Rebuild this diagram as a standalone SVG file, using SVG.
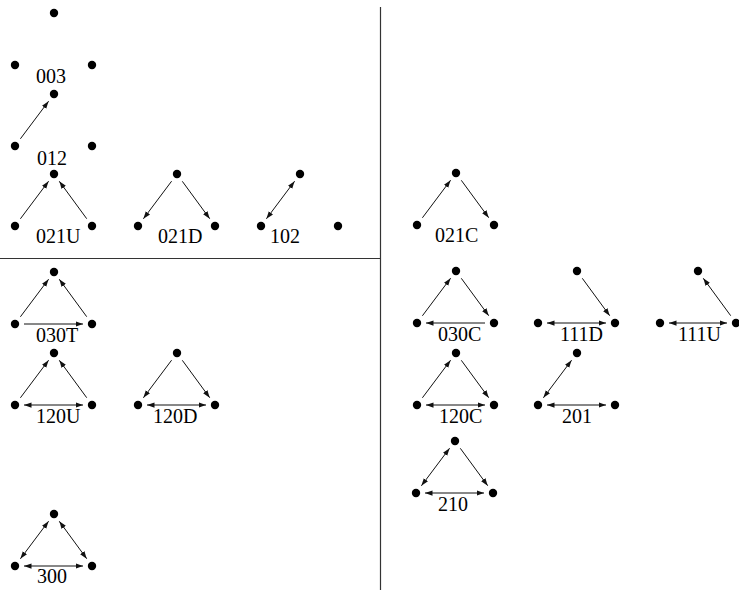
<svg xmlns="http://www.w3.org/2000/svg" width="739" height="590" viewBox="0 0 739 590">
<style>
.dot{fill:#000}
.lbl{font-family:"Liberation Serif","Times New Roman",serif;font-size:20px;fill:#000}
.e{stroke:#111;stroke-width:1;fill:none}
.a{marker-end:url(#ah)}
.b{marker-start:url(#ah);marker-end:url(#ah)}
.div{stroke:#333;stroke-width:1.2}
</style>
<defs>
<marker id="ah" viewBox="0 0 10 10" refX="10" refY="5" markerWidth="7.5" markerHeight="7.5" markerUnits="userSpaceOnUse" orient="auto-start-reverse"><path d="M0,1.5 L10,5 L0,8.5 Z" fill="#111"/></marker>
</defs>
<rect width="739" height="590" fill="#fff"/>
<g id="dividers">
<line class="div" x1="380.5" y1="7" x2="380.5" y2="590"/>
<line class="div" x1="0" y1="258.5" x2="380.5" y2="258.5"/>
</g>
<g id="t003"><circle class="dot" cx="54" cy="13" r="4.2"/><circle class="dot" cx="15" cy="65" r="4.2"/><circle class="dot" cx="92" cy="65" r="4.2"/><text class="lbl" x="36" y="83">003</text></g>
<g id="t012"><circle class="dot" cx="54" cy="94" r="4.2"/><circle class="dot" cx="15" cy="146" r="4.2"/><circle class="dot" cx="92" cy="146" r="4.2"/><text class="lbl" x="37" y="165">012</text></g>
<g id="t021U"><circle class="dot" cx="54" cy="174" r="4.2"/><circle class="dot" cx="15" cy="226" r="4.2"/><circle class="dot" cx="92" cy="226" r="4.2"/><text class="lbl" x="36" y="243">021U</text></g>
<g id="t021D"><circle class="dot" cx="177" cy="174" r="4.2"/><circle class="dot" cx="138" cy="226" r="4.2"/><circle class="dot" cx="215" cy="226" r="4.2"/><text class="lbl" x="158" y="243">021D</text></g>
<g id="t102"><circle class="dot" cx="300" cy="174" r="4.2"/><circle class="dot" cx="261" cy="226" r="4.2"/><circle class="dot" cx="338" cy="226" r="4.2"/><text class="lbl" x="270" y="243">102</text></g>
<g id="t021C"><circle class="dot" cx="456" cy="173" r="4.2"/><circle class="dot" cx="417" cy="225" r="4.2"/><circle class="dot" cx="494" cy="225" r="4.2"/><text class="lbl" x="435" y="242">021C</text></g>
<g id="t030T"><circle class="dot" cx="54" cy="272" r="4.2"/><circle class="dot" cx="15" cy="324" r="4.2"/><circle class="dot" cx="92" cy="324" r="4.2"/><text class="lbl" x="36" y="342">030T</text></g>
<g id="t030C"><circle class="dot" cx="456" cy="271" r="4.2"/><circle class="dot" cx="417" cy="323" r="4.2"/><circle class="dot" cx="494" cy="323" r="4.2"/><text class="lbl" x="438" y="341">030C</text></g>
<g id="t111D"><circle class="dot" cx="577" cy="271" r="4.2"/><circle class="dot" cx="538" cy="323" r="4.2"/><circle class="dot" cx="615" cy="323" r="4.2"/><text class="lbl" x="560" y="341">111D</text></g>
<g id="t111U"><circle class="dot" cx="698" cy="271" r="4.2"/><circle class="dot" cx="660" cy="323" r="4.2"/><circle class="dot" cx="736" cy="323" r="4.2"/><text class="lbl" x="678" y="341">111U</text></g>
<g id="t120U"><circle class="dot" cx="54" cy="353" r="4.2"/><circle class="dot" cx="15" cy="405" r="4.2"/><circle class="dot" cx="92" cy="405" r="4.2"/><text class="lbl" x="36" y="423">120U</text></g>
<g id="t120D"><circle class="dot" cx="177" cy="353" r="4.2"/><circle class="dot" cx="138" cy="405" r="4.2"/><circle class="dot" cx="215" cy="405" r="4.2"/><text class="lbl" x="153" y="423">120D</text></g>
<g id="t120C"><circle class="dot" cx="456" cy="353" r="4.2"/><circle class="dot" cx="417" cy="405" r="4.2"/><circle class="dot" cx="494" cy="405" r="4.2"/><text class="lbl" x="439" y="423">120C</text></g>
<g id="t201"><circle class="dot" cx="577" cy="353" r="4.2"/><circle class="dot" cx="538" cy="405" r="4.2"/><circle class="dot" cx="615" cy="405" r="4.2"/><text class="lbl" x="562" y="423">201</text></g>
<g id="t210"><circle class="dot" cx="455" cy="441" r="4.2"/><circle class="dot" cx="416" cy="493" r="4.2"/><circle class="dot" cx="493" cy="493" r="4.2"/><text class="lbl" x="438" y="511">210</text></g>
<g id="t300"><circle class="dot" cx="54" cy="514" r="4.2"/><circle class="dot" cx="15" cy="566" r="4.2"/><circle class="dot" cx="92" cy="566" r="4.2"/><text class="lbl" x="37" y="583">300</text></g>
<g id="connectors">
<line class="e a" x1="20.4" y1="138.8" x2="48.6" y2="101.2"/>
<line class="e a" x1="20.4" y1="218.8" x2="48.6" y2="181.2"/>
<line class="e a" x1="86.7" y1="218.7" x2="59.3" y2="181.3"/>
<line class="e a" x1="171.6" y1="181.2" x2="143.4" y2="218.8"/>
<line class="e a" x1="182.3" y1="181.3" x2="209.7" y2="218.7"/>
<line class="e b" x1="266.4" y1="218.8" x2="294.6" y2="181.2"/>
<line class="e a" x1="422.4" y1="217.8" x2="450.6" y2="180.2"/>
<line class="e a" x1="461.3" y1="180.3" x2="488.7" y2="217.7"/>
<line class="e a" x1="20.4" y1="316.8" x2="48.6" y2="279.2"/>
<line class="e a" x1="86.7" y1="316.7" x2="59.3" y2="279.3"/>
<line class="e a" x1="24" y1="324" x2="83" y2="324"/>
<line class="e a" x1="422.4" y1="315.8" x2="450.6" y2="278.2"/>
<line class="e a" x1="461.3" y1="278.3" x2="488.7" y2="315.7"/>
<line class="e a" x1="485" y1="323" x2="426" y2="323"/>
<line class="e b" x1="547" y1="323" x2="606" y2="323"/>
<line class="e a" x1="582.3" y1="278.3" x2="609.7" y2="315.7"/>
<line class="e b" x1="669" y1="323" x2="727" y2="323"/>
<line class="e a" x1="730.7" y1="315.7" x2="703.3" y2="278.3"/>
<line class="e a" x1="20.4" y1="397.8" x2="48.6" y2="360.2"/>
<line class="e a" x1="86.7" y1="397.7" x2="59.3" y2="360.3"/>
<line class="e b" x1="24" y1="405" x2="83" y2="405"/>
<line class="e a" x1="171.6" y1="360.2" x2="143.4" y2="397.8"/>
<line class="e a" x1="182.3" y1="360.3" x2="209.7" y2="397.7"/>
<line class="e b" x1="147" y1="405" x2="206" y2="405"/>
<line class="e a" x1="422.4" y1="397.8" x2="450.6" y2="360.2"/>
<line class="e a" x1="461.3" y1="360.3" x2="488.7" y2="397.7"/>
<line class="e b" x1="426" y1="405" x2="485" y2="405"/>
<line class="e b" x1="543.4" y1="397.8" x2="571.6" y2="360.2"/>
<line class="e b" x1="547" y1="405" x2="606" y2="405"/>
<line class="e b" x1="421.4" y1="485.8" x2="449.6" y2="448.2"/>
<line class="e a" x1="460.3" y1="448.3" x2="487.7" y2="485.7"/>
<line class="e b" x1="425" y1="493" x2="484" y2="493"/>
<line class="e b" x1="20.4" y1="558.8" x2="48.6" y2="521.2"/>
<line class="e b" x1="86.7" y1="558.7" x2="59.3" y2="521.3"/>
<line class="e b" x1="24" y1="566" x2="83" y2="566"/>
</g>
</svg>
